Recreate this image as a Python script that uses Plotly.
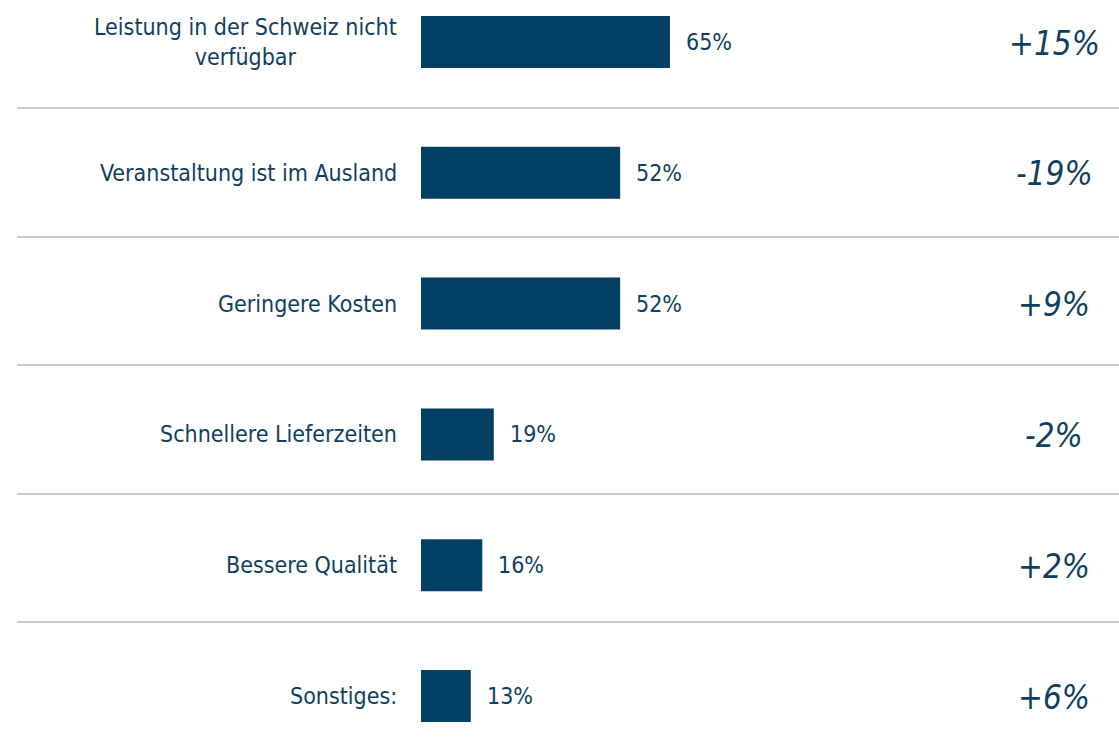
import plotly.graph_objects as go

# Reasons and their shares (percent), top to bottom
categories = [
    "Leistung in der Schweiz nicht<br>verfügbar",
    "Veranstaltung ist im Ausland",
    "Geringere Kosten",
    "Schnellere Lieferzeiten",
    "Bessere Qualität",
    "Sonstiges:",
]
shares = [65, 52, 52, 19, 16, 13]
changes = ["+15%", "-19%", "+9%", "-2%", "+2%", "+6%"]

W, H = 1119, 746
BAR = "#023f62"
TEXT = "#0f3f60"
GRID = "#c6c9d3"
FONT = "DejaVu Sans Condensed, Tahoma, sans-serif"

px_per_pct = 3.83
x0_px = 421
row_pitch = 130.8
first_center = 42

pos = list(range(len(categories)))

fig = go.Figure(
    go.Bar(
        x=shares,
        y=pos,
        orientation="h",
        marker=dict(color=BAR, line=dict(width=0)),
        width=52 / row_pitch,
        hoverinfo="skip",
    )
)

annotations = []
for i, (cat, v, d) in enumerate(zip(categories, shares, changes)):
    # category label, right-aligned left of the bars
    annotations.append(dict(
        x=399 / W, xref="paper", y=i, yref="y",
        text=cat, showarrow=False, xanchor="right", yanchor="middle",
        align="center", font=dict(family=FONT, size=23, color=TEXT),
    ))
    # value label after the bar end
    annotations.append(dict(
        x=v, xref="x", y=i, yref="y", xshift=14,
        text=f"{v}%", showarrow=False, xanchor="left", yanchor="middle",
        font=dict(family=FONT, size=23, color=TEXT),
    ))
    # change vs. previous survey, on the right
    annotations.append(dict(
        x=1054 / W, xref="paper", y=i, yref="y", yshift=-1,
        text=f"<i>{d}</i>", showarrow=False, xanchor="center", yanchor="middle",
        font=dict(family=FONT, size=33, color=TEXT),
    ))

# horizontal separators between rows
sep_px = [108, 237, 365, 494, 622]
shapes = [
    dict(type="line", xref="paper", yref="paper",
         x0=17 / W, x1=1, y0=1 - p / H, y1=1 - p / H,
         line=dict(color=GRID, width=2))
    for p in sep_px
]

fig.update_layout(
    width=W, height=H,
    margin=dict(l=0, r=0, t=0, b=0),
    paper_bgcolor="white", plot_bgcolor="white",
    showlegend=False,
    xaxis=dict(range=[-x0_px / px_per_pct, (W - x0_px) / px_per_pct],
               visible=False, fixedrange=True),
    yaxis=dict(range=[5 + (H - (first_center + 5 * row_pitch)) / row_pitch,
                      -first_center / row_pitch],
               visible=False, fixedrange=True),
    annotations=annotations,
    shapes=shapes,
)

fig.write_html("out.html")
